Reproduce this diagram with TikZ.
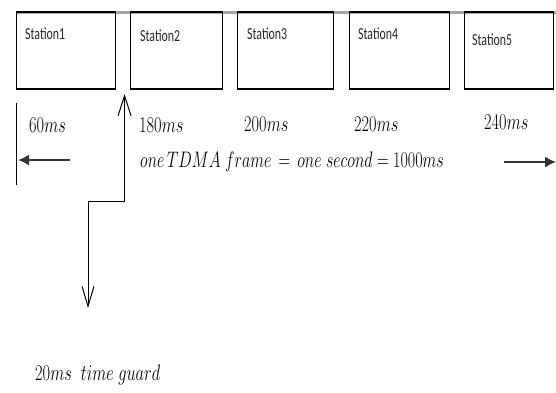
\documentclass[tikz,border=0pt]{standalone}
\usepackage{fontspec}
\newfontfamily\stfont{Carlito}
\usetikzlibrary{arrows.meta,calc}
\newcommand{\tallms}[1]{\scalebox{0.95}[1.3]{#1}}
\newcommand{\tallst}[1]{\scalebox{0.95}[1.35]{#1}}
\begin{document}
\begin{tikzpicture}[x=1pt,y=-1pt,
  stbox/.style={draw=black,line width=1.1pt,minimum height=76pt,inner sep=0pt,anchor=north west},
  stlabel/.style={font=\stfont\fontsize{12.5}{14}\selectfont,anchor=west,inner sep=0pt,text=black!85},
  mslabel/.style={font=\fontsize{19}{21}\selectfont,anchor=west,inner sep=0pt},
  framelabel/.style={font=\fontsize{16}{19}\selectfont,anchor=west,inner sep=0pt},
  topedge/.style={line width=2.6pt,black},
  barb/.style={line width=1pt,black},
  bigarrow/.style={line width=1.8pt,black!80,-{Latex[length=11pt,width=11pt]}}]
\useasboundingbox (0,0) rectangle (556,392);
\fill[white] (0,0) rectangle (556,392);
% top line across
\draw[gray!70,line width=2.2pt] (16,12.5) -- (556,12.5);
% station boxes
\node[stbox,minimum width=99pt] (s1) at (16,12) {};
\node[stbox,minimum width=92pt] (s2) at (130,12) {};
\node[stbox,minimum width=96pt] (s3) at (237,12) {};
\node[stbox,minimum width=100pt] (s4) at (349,12) {};
\node[stbox,minimum width=89pt] (s5) at (464,12) {};
\foreach \s in {s1,s2,s3,s4,s5}{
  \draw[topedge] (\s.north west) -- (\s.north east);
  \draw[line width=1.8pt] (\s.south west) -- (\s.south east);
}
\node[stlabel] (l1) at (25,34) {\tallst{Station1}};
\node[stlabel] (l2) at (140,36) {\tallst{Station2}};
\node[stlabel] (l3) at (247,34) {\tallst{Station3}};
\node[stlabel] (l4) at (358,34) {\tallst{Station4}};
\node[stlabel] (l5) at (472,40) {\tallst{Station5}};
% durations
\node[mslabel] (t1) at (29,125) {\tallms{$60ms$}};
\node[mslabel] (t2) at (139,125) {\tallms{$180ms$}};
\node[mslabel] (t3) at (244,124) {\tallms{$200ms$}};
\node[mslabel] (t4) at (354,124) {\tallms{$220ms$}};
\node[mslabel] (t5) at (484,122) {\tallms{$240ms$}};
\node[framelabel] (fr) at (140,162) {\scalebox{0.93}[1.3]{$one\,TDMA\;frame\,=\,one\;second = 1000ms$}};
% left and right arrows
\coordinate (lstart) at (70,160);
\coordinate (lend) at (18,160);
\draw[bigarrow] (lstart) -- (lend);
\coordinate (vtop) at (16.5,103);
\coordinate (vbot) at (16.5,185);
\draw[line width=1.1pt] (vtop) -- (vbot);
\coordinate (rstart) at (504,162);
\coordinate (rend) at (556,162);
\draw[bigarrow] (rstart) -- (rend);
% time guard
\coordinate (gap) at ($(s1.south east)!0.5!(s2.south west)+(1.5,5)$);
\coordinate (corner) at (88,201);
\coordinate (tgtip) at (88,308);
\draw[barb,{Straight Barb[length=20pt,width=13pt]}-{Straight Barb[length=20pt,width=12pt]}]
  (gap) |- (corner) -- (tgtip);
\node[mslabel,font=\fontsize{17}{20}\selectfont] (tg) at (35,375) {\scalebox{0.95}[1.3]{$20ms\;\;time\;guard$}};
\end{tikzpicture}
\end{document}
